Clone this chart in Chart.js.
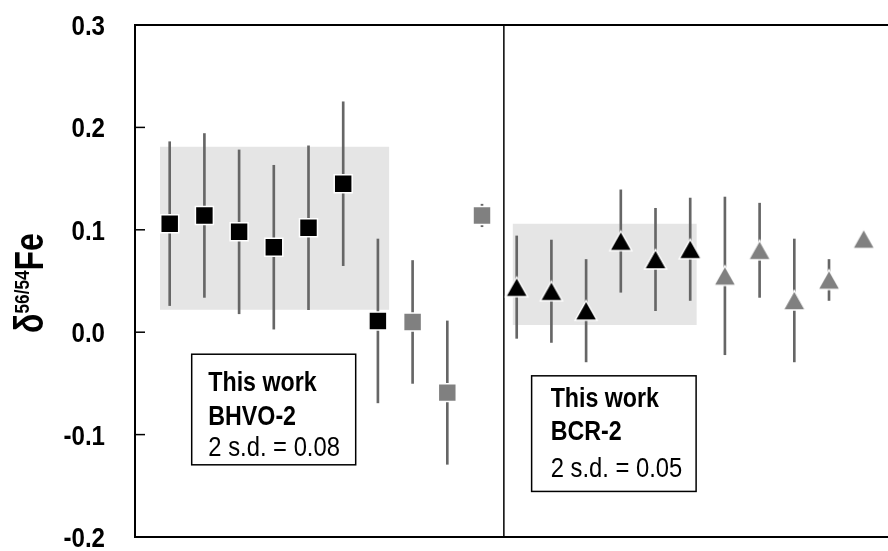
<!DOCTYPE html>
<html>
<head>
<meta charset="utf-8">
<script src="https://cdn.jsdelivr.net/npm/chart.js@4.4.0/dist/chart.umd.min.js"></script>
<style>
html, body { margin: 0; padding: 0; background: #fff; overflow: hidden; }
canvas { display: block; }
</style>
</head>
<body>
<canvas id="chart" width="888" height="551"></canvas>
<script>
// --- DATA ---
// BHVO-2, this work (black squares)
const bhvoX = [1, 2, 3, 4, 5, 6, 7];
const bhvoY = [0.106, 0.114, 0.098, 0.083, 0.102, 0.145, 0.011];
const bhvoErr = [0.08, 0.08, 0.08, 0.08, 0.08, 0.08, 0.08];
// BHVO-2, literature (grey squares)
const bhvoLitX = [8, 9, 10];
const bhvoLitY = [0.010, -0.059, 0.114];
const bhvoLitErr = [0.06, 0.07, 0.011];
// BCR-2, this work (black triangles)
const bcrX = [11, 12, 13, 14, 15, 16];
const bcrY = [0.044, 0.040, 0.021, 0.089, 0.071, 0.081];
const bcrErr = [0.05, 0.05, 0.05, 0.05, 0.05, 0.05];
// BCR-2, literature (grey triangles)
const bcrLitX = [17, 18, 19, 20, 21];
const bcrLitY = [0.055, 0.080, 0.031, 0.051, 0.091];
const bcrLitErr = [0.077, 0.046, 0.060, 0.020, 0];
// mean +/- 2 s.d. bands
const bhvoBandX = [0.72, 7.33];
const bhvoBand = [0.022, 0.181];
const bcrBandX = [10.88, 16.19];
const bcrBand = [0.007, 0.106];
const dividerX = 10.63;
const yTicks = [-0.2, -0.1, 0.0, 0.1, 0.2, 0.3];
const xRange = [0, 21.7];

// no narrow font installed, so text is squeezed by hand
const FONT = "'Liberation Sans', Arial, sans-serif";

// --- HELPERS ---
const pts = (xs, ys) => xs.map((x, i) => ({ x: x, y: ys[i] }));
const errBars = (xs, ys, es) => xs
    .map((x, i) => ({ x: x, y: [ys[i] - es[i], ys[i] + es[i]] }))
    .filter((d, i) => es[i] > 0);
const fmtTick = v => (Math.abs(v) < 1e-9 ? 0 : v).toFixed(1);

function narrowText(ctx, txt, x, y, font, squeeze, align) {
    ctx.save();
    ctx.font = font;
    ctx.textAlign = align || 'left';
    ctx.translate(x, y);
    ctx.scale(squeeze, 1);
    ctx.fillText(txt, 0, 0);
    ctx.restore();
}

function triangle(fill) {
    const c = document.createElement('canvas');
    c.width = 26; c.height = 25;
    const g = c.getContext('2d');
    g.beginPath();
    g.moveTo(13, 2.5);
    g.lineTo(24, 22);
    g.lineTo(2, 22);
    g.closePath();
    g.fillStyle = fill;
    g.fill();
    g.strokeStyle = '#fff';
    g.lineWidth = 1.5;
    g.stroke();
    return c;
}

// strip the label padding chart.js reserves around the plot
const noPad = s => { s.paddingTop = 0; s.paddingBottom = 0; s.paddingLeft = 0; s.paddingRight = 0; };

const errStyle = { type: 'bar', backgroundColor: '#666', barThickness: 2, grouped: false, order: 2 };
const squareStyle = { type: 'scatter', pointStyle: 'rect', pointRadius: 12.7, pointBorderColor: '#fff', pointBorderWidth: 1.5, order: 1 };
const triStyle = { type: 'scatter', pointRadius: 12, order: 1 };

// --- PLUGINS ---
const yAxisMarks = {
    id: 'yAxisMarks',
    afterDatasetsDraw(chart) {
        const ctx = chart.ctx, s = chart.scales.y, left = chart.chartArea.left;
        ctx.save();
        ctx.strokeStyle = '#000';
        ctx.fillStyle = '#000';
        ctx.lineWidth = 1.5;
        s.ticks.forEach(t => {
            const y = s.getPixelForValue(t.value);
            ctx.beginPath();
            ctx.moveTo(left, y);
            ctx.lineTo(left + 10, y);
            ctx.stroke();
            narrowText(ctx, fmtTick(t.value), left - 30, y + 10, 'bold 28px ' + FONT, 0.86, 'right');
        });
        ctx.restore();
    }
};

const yTitle = {
    id: 'yTitle',
    afterDraw(chart) {
        const ctx = chart.ctx, a = chart.chartArea;
        const big = 'bold 40px ' + FONT, small = 'bold 21px ' + FONT;
        const kBig = 0.8, kSmall = 0.82;
        ctx.save();
        ctx.font = big;
        const wD = ctx.measureText('δ').width * kBig, wF = ctx.measureText('Fe').width * kBig;
        ctx.font = small;
        const wS = ctx.measureText('56/54').width * kSmall;
        const total = wD + wS + wF;
        ctx.translate(43, (a.top + a.bottom) / 2 + 2);
        ctx.rotate(-Math.PI / 2);
        ctx.fillStyle = '#000';
        let x = -total / 2;
        narrowText(ctx, 'δ', x, 0, big, kBig); x += wD;
        narrowText(ctx, '56/54', x, -14, small, kSmall); x += wS;
        narrowText(ctx, 'Fe', x, 0, big, kBig);
        ctx.restore();
    }
};

const notes = [
    { x0: 1.634, x1: 6.36, y0: -0.0215, y1: -0.1295, pad: 16.6,
      lines: [['This work', true, 36.7], ['BHVO-2', true, 70.7], ['2 s.d. = 0.08', false, 101.7]] },
    { x0: 11.43, x1: 16.17, y0: -0.0426, y1: -0.1555, pad: 19,
      lines: [['This work', true, 31], ['BCR-2', true, 64.5], ['2 s.d. = 0.05', false, 101.3]] }
];

const noteBoxes = {
    id: 'noteBoxes',
    afterDatasetsDraw(chart) {
        const ctx = chart.ctx, sx = chart.scales.x, sy = chart.scales.y;
        ctx.save();
        notes.forEach(n => {
            const l = sx.getPixelForValue(n.x0), r = sx.getPixelForValue(n.x1);
            const t = sy.getPixelForValue(n.y0), b = sy.getPixelForValue(n.y1);
            ctx.fillStyle = '#fff';
            ctx.fillRect(l, t, r - l, b - t);
            ctx.strokeStyle = '#000';
            ctx.lineWidth = 1.5;
            ctx.strokeRect(l, t, r - l, b - t);
            ctx.fillStyle = '#000';
            n.lines.forEach(([txt, bold, dy]) => {
                narrowText(ctx, txt, l + n.pad, t + dy, (bold ? 'bold 27px ' : '28px ') + FONT, bold ? 0.86 : 0.85);
            });
        });
        ctx.restore();
    }
};

// --- CHART ---
new Chart(document.getElementById('chart'), {
    type: 'scatter',
    data: {
        datasets: [
            { type: 'line', data: pts(bhvoBandX, [bhvoBand[1], bhvoBand[1]]), fill: { value: bhvoBand[0] },
              backgroundColor: '#e5e5e5', borderWidth: 0, pointRadius: 0, order: 4 },
            { type: 'line', data: pts(bcrBandX, [bcrBand[1], bcrBand[1]]), fill: { value: bcrBand[0] },
              backgroundColor: '#e5e5e5', borderWidth: 0, pointRadius: 0, order: 4 },
            { type: 'line', data: pts([dividerX, dividerX], [yTicks[0], yTicks[yTicks.length - 1]]),
              borderColor: '#000', borderWidth: 1.5, pointRadius: 0, fill: false, order: 3 },
            { ...errStyle, data: errBars(bhvoX, bhvoY, bhvoErr) },
            { ...errStyle, data: errBars(bhvoLitX, bhvoLitY, bhvoLitErr) },
            { ...errStyle, data: errBars(bcrX, bcrY, bcrErr) },
            { ...errStyle, data: errBars(bcrLitX, bcrLitY, bcrLitErr) },
            { ...squareStyle, label: 'BHVO-2 this work', data: pts(bhvoX, bhvoY), pointBackgroundColor: '#000' },
            { ...squareStyle, label: 'BHVO-2 literature', data: pts(bhvoLitX, bhvoLitY), pointBackgroundColor: '#808080' },
            { ...triStyle, label: 'BCR-2 this work', data: pts(bcrX, bcrY), pointStyle: triangle('#000') },
            { ...triStyle, label: 'BCR-2 literature', data: pts(bcrLitX, bcrLitY), pointStyle: triangle('#808080') }
        ]
    },
    options: {
        responsive: false,
        animation: false,
        // big markers would otherwise push the plot edge in
        layout: { autoPadding: false, padding: { top: 25, right: 0, bottom: 14, left: 0 } },
        plugins: { legend: { display: false }, tooltip: { enabled: false } },
        scales: {
            x: {
                type: 'linear', min: xRange[0], max: xRange[1], offset: false,
                ticks: { display: false },
                grid: { display: false, drawTicks: false },
                border: { display: true, color: '#000', width: 2 },
                afterFit: s => { s.height = 0; noPad(s); }
            },
            x2: {
                type: 'linear', position: 'top', display: true, min: xRange[0], max: xRange[1], offset: false,
                ticks: { display: false },
                grid: { display: false, drawTicks: false },
                border: { display: true, color: '#000', width: 2 },
                afterFit: s => { s.height = 0; noPad(s); }
            },
            y: {
                type: 'linear', min: yTicks[0], max: yTicks[yTicks.length - 1], beginAtZero: false,
                afterBuildTicks: s => { s.ticks = yTicks.map(v => ({ value: v })); },
                ticks: { display: false, callback: fmtTick },
                grid: { drawOnChartArea: false, drawTicks: false },
                border: { display: true, color: '#000', width: 2 },
                afterFit: s => { s.width = 135; noPad(s); }
            }
        }
    },
    plugins: [yAxisMarks, noteBoxes, yTitle]
});
</script>
</body>
</html>
